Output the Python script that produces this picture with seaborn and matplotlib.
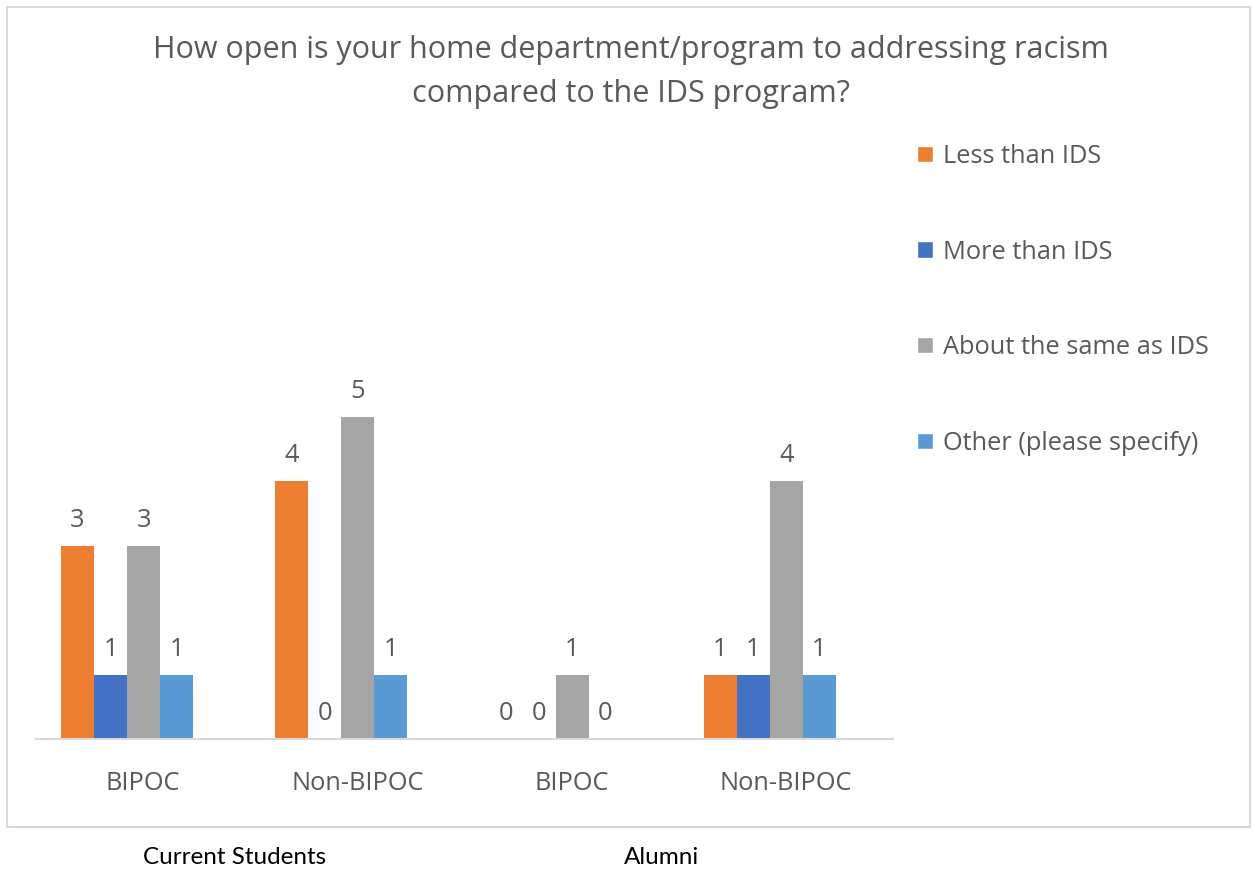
import matplotlib
matplotlib.use("Agg")
import matplotlib.pyplot as plt
from matplotlib.patches import Rectangle
from matplotlib.transforms import ScaledTranslation
import pandas as pd
import seaborn as sns

# Survey counts per respondent group
groups = ["Current Students|BIPOC", "Current Students|Non-BIPOC",
          "Alumni|BIPOC", "Alumni|Non-BIPOC"]
group_labels = ["BIPOC", "Non-BIPOC", "BIPOC", "Non-BIPOC"]
responses = ["Less than IDS", "More than IDS", "About the same as IDS", "Other (please specify)"]
less_than = [3, 4, 0, 1]
more_than = [1, 0, 0, 1]
about_same = [3, 5, 1, 4]
other = [1, 1, 0, 1]
cohorts = ["Current Students", "Alumni"]

colors = ["#ED7D31", "#4472C4", "#A5A5A5", "#5B9BD5"]
text_gray = "#595959"
line_gray = "#D9D9D9"

rows = []
for resp, vals in zip(responses, [less_than, more_than, about_same, other]):
    for g, v in zip(groups, vals):
        rows.append({"group": g, "response": resp, "count": v})
df = pd.DataFrame(rows)

sns.set_theme(style="white")
plt.rcParams["font.family"] = ["Open Sans", "DejaVu Sans"]

W, H = 1253, 869
fig = plt.figure(figsize=(W / 100, H / 100), dpi=100)
fig.patch.set_facecolor("white")

# Plot area in pixel coordinates
x0, x1 = 36, 893
base_y = 739
unit_px = 64.5
ymax = 6
ax = fig.add_axes([x0 / W, (H - base_y) / H, (x1 - x0) / W, ymax * unit_px / H])

sns.barplot(data=df, x="group", y="count", hue="response", order=groups,
            hue_order=responses, palette=colors, width=0.617, gap=0,
            saturation=1, ax=ax, legend=True)

# Bar clusters sit slightly left of the category label slots
shift = 0.075
ax.set_xlim(-0.5 + shift, 3.5 + shift)
ax.set_ylim(0, ymax)
ax.set_xlabel("")
ax.set_ylabel("")
ax.set_yticks([])
ax.set_xticks(range(len(groups)))
ax.set_xticklabels(group_labels, fontsize=18.3, color=text_gray)
ax.tick_params(axis="x", length=0, pad=23)
for lbl in ax.get_xticklabels():
    lbl.set_transform(lbl.get_transform() + ScaledTranslation(16 / 100, 0, fig.dpi_scale_trans))
for side in ["top", "right", "left"]:
    ax.spines[side].set_visible(False)
ax.spines["bottom"].set_color(line_gray)
ax.spines["bottom"].set_linewidth(1.5)

for cont in ax.containers:
    for p in cont.patches:
        p.set_edgecolor("none")
    ax.bar_label(cont, fmt="%d", padding=9, fontsize=18.3, color=text_gray)

handles, labels = ax.get_legend_handles_labels()
ax.get_legend().remove()
fig.legend(handles, labels, loc="upper left",
           bbox_to_anchor=(894 / W, (H - 121) / H), bbox_transform=fig.transFigure,
           frameon=False, fontsize=18.3, labelcolor=text_gray,
           handlelength=0.62, handleheight=0.62, handletextpad=0.4,
           labelspacing=2.78)

fig.text(631 / W, (H - 50) / H,
         "How open is your home department/program to addressing racism",
         ha="center", va="center", fontsize=22, color=text_gray)
fig.text(631 / W, (H - 94) / H, "compared to the IDS program?",
         ha="center", va="center", fontsize=22, color=text_gray)

# Chart frame
fig.patches.append(Rectangle((7 / W, (H - 827) / H), 1243 / W, 820 / H,
                             transform=fig.transFigure, fill=False,
                             edgecolor=line_gray, linewidth=1.5))

# Cohort labels under the frame
for name, cx in zip(cohorts, [235, 662]):
    fig.text(cx / W, (H - 857) / H, name, ha="center", va="center",
             fontsize=17.5, color="black", family=["Lato", "DejaVu Sans"])

fig.savefig("out.png", dpi=100, facecolor="white")
